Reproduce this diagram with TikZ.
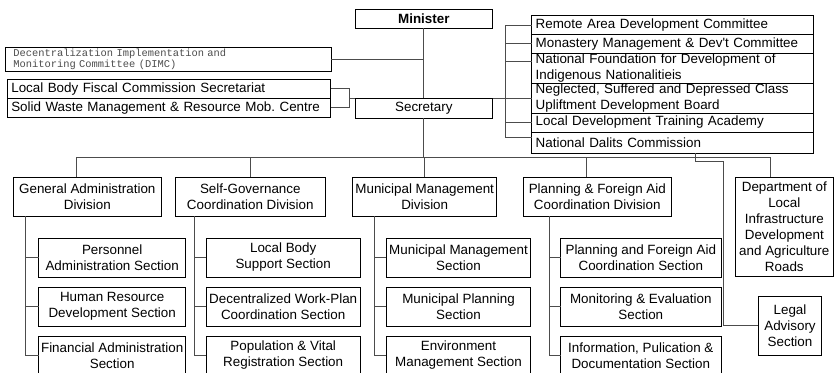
\documentclass[tikz,border=0pt]{standalone}
\usepackage{fontspec}
\setmainfont{Liberation Sans}
\setmonofont{Liberation Mono}
\usepackage{tikz}
\usetikzlibrary{positioning}
\frenchspacing
\tikzset{
Unit/.style={
	draw, inner sep=0pt, outer sep=0pt,
	align=center, line width=0.9pt,
	font=\fontsize{13.4}{16}\selectfont
},
Division/.style={
	Unit,
	minimum height=38.7pt
},
Section/.style={
	Unit,
	minimum height=39pt
},
Board/.style={
	Unit,
	align=left,
	inner xsep=4pt,
	text width=273.6pt,
	font=\fontsize{13.4}{15.5}\selectfont
},
Edge/.style={
	draw=black!70,
	line width=0.9pt
}
}

\begin{document}
\begin{tikzpicture}[x=1pt, y=-1pt]
	\useasboundingbox (0,0) rectangle (834,372);

	% top of the ministry
	\node[Unit, minimum width=137.7pt, minimum height=19pt, font=\bfseries\fontsize{13.4}{16}\selectfont] (minister) at (423.8,18.8) {Minister};
	\node[Unit, minimum width=137.7pt, minimum height=20pt] (secretary) at (423.8,108.3) {Secretary};

	\node[Unit, align=left, inner xsep=8pt, text width=309.7pt, minimum height=24pt, text=black!70, font=\ttfamily\fontsize{10.4}{10.7}\selectfont] (dimc) at (168.2,59) {Decentralization Implementation and\\Monitoring Committee (DIMC)};
	\node[Board, text width=315.4pt, minimum height=19.7pt] (lbfc) at (169,88.9) {Local Body Fiscal Commission Secretariat};
	\node[Board, text width=315.4pt, minimum height=18.3pt, below=0pt of lbfc] (swm) {Solid Waste Management \& Resource Mob. Centre};

	\node[Board, minimum height=19.4pt, anchor=north west] (remote) at (531.7,15.3) {Remote Area Development Committee};
	\node[Board, minimum height=18.3pt, below=0pt of remote] (monastery) {Monastery Management \& Dev\textquotesingle t Committee};
	\node[Board, minimum height=30pt, below=0pt of monastery] (natfound) {National Foundation for Development of\\Indigenous Nationalitieis};
	\node[Board, minimum height=30pt, below=0pt of natfound] (neglected) {Neglected, Suffered and Depressed Class\\Upliftment Development Board};
	\node[Board, minimum height=19pt, below=0pt of neglected] (localdev) {Local Development Training Academy};
	\node[Board, minimum height=21pt, below=0pt of localdev] (dalits) {National Dalits Commission};

	% divisions
	\node[Division, minimum width=148pt] (ga) at (87.3,196.7) {General Administration\\Division};
	\node[Division, minimum width=149.3pt] (sg) at (250.3,196.7) {Self-Governance\\Coordination Division};
	\node[Division, minimum width=144pt] (mm) at (424.7,196.7) {Municipal Management\\Division};
	\node[Division, minimum width=147.3pt] (pf) at (597.3,196.7) {Planning \& Foreign Aid\\Coordination Division};
	\node[Unit, minimum width=98pt, minimum height=98.7pt] (dept) at (784.3,226.7) {Department of\\Local\\Infrastructure\\Development\\and Agriculture\\Roads};
	\node[Unit, minimum width=63.4pt, minimum height=58.3pt] (legal) at (790,325.8) {Legal\\Advisory\\Section};

	% sections
	\node[Section, minimum width=147pt] (ga1) at (112.2,257.5) {Personnel\\Administration Section};
	\node[Section, minimum width=147pt, below=10pt of ga1] (ga2) {Human Resource\\Development Section};
	\node[Section, minimum width=147pt, below=10pt of ga2] (ga3) {Financial Administration\\Section};

	\node[Section, minimum width=153.7pt] (sg1) at (283.2,257.5) {Local Body\\Support Section};
	\node[Section, minimum width=153.7pt, below=10pt of sg1] (sg2) {Decentralized Work-Plan\\Coordination Section};
	\node[Section, minimum width=153.7pt, below=10pt of sg2] (sg3) {Population \& Vital\\Registration Section};

	\node[Section, minimum width=144.4pt] (mm1) at (458.5,257.5) {Municipal Management\\Section};
	\node[Section, minimum width=144.4pt, below=10pt of mm1] (mm2) {Municipal Planning\\Section};
	\node[Section, minimum width=144.4pt, below=10pt of mm2] (mm3) {Environment\\Management Section};

	\node[Section, minimum width=160.3pt] (pf1) at (640.8,257.5) {Planning and Foreign Aid\\Coordination Section};
	\node[Section, minimum width=160.3pt, below=10pt of pf1] (pf2) {Monitoring \& Evaluation\\Section};
	\node[Section, minimum width=160.3pt, below=10pt of pf2] (pf3) {Information, Pulication \&\\Documentation Section};

	% helper points
	\coordinate (bus) at (0,157.3);
	\coordinate (boardSpine) at (505.7,0);
	\coordinate (gaTop) at ([xshift=-11.3pt]ga.north);
	\coordinate (pfTop) at ([xshift=-11.3pt]pf.north);
	\coordinate (deptTop) at ([xshift=-13.6pt]dept.north);
	\coordinate (dalitsOut) at ([xshift=23pt]dalits.south);
	\coordinate (legalBend) at (723.3,161);
	\coordinate (gaSpine) at ([xshift=12.4pt]ga.south west);
	\coordinate (sgSpine) at ([xshift=18.3pt]sg.south west);
	\coordinate (mmSpine) at ([xshift=22pt]mm.south west);
	\coordinate (pfSpine) at ([xshift=25.3pt]pf.south west);

	\draw[Edge] (minister) -- (secretary);
	\draw[Edge] (dimc.east) -- (dimc.east -| minister.south);
	\draw[Edge] (lbfc.east) -- ++(18.3,0) |- (swm.east);
	\draw[Edge] (secretary.north west) -- ++(-5.7,0);

	\draw[Edge] (remote.west) -- (remote.west -| boardSpine) |- ([yshift=5.5pt]dalits.west);
	\draw[Edge] (monastery.west) -- (monastery.west -| boardSpine);
	\draw[Edge] ([yshift=6.7pt]natfound.west) -- ++(-25.9,0);
	\draw[Edge] (secretary.north east) -- (secretary.north east -| neglected.west);
	\draw[Edge] (localdev.west) -- (localdev.west -| boardSpine);

	\draw[Edge] (secretary) -- (secretary |- bus);
	\draw[Edge] (gaTop) |- (deptTop |- bus) -- (deptTop);
	\draw[Edge] (sg) -- (sg |- bus);
	\draw[Edge] (mm) -- (mm |- bus);
	\draw[Edge] (pfTop) -- (pfTop |- bus);
	\draw[Edge] (dalitsOut) |- (legalBend) |- (legal.west);

	\draw[Edge] (gaSpine) |- (ga3.west);
	\draw[Edge] (ga1.west) -- (ga1.west -| gaSpine);
	\draw[Edge] (ga2.west) -- (ga2.west -| gaSpine);
	\draw[Edge] (sgSpine) |- (sg3.west);
	\draw[Edge] (sg1.west) -- (sg1.west -| sgSpine);
	\draw[Edge] (sg2.west) -- (sg2.west -| sgSpine);
	\draw[Edge] (mmSpine) |- (mm3.west);
	\draw[Edge] (mm1.west) -- (mm1.west -| mmSpine);
	\draw[Edge] (mm2.west) -- (mm2.west -| mmSpine);
	\draw[Edge] (pfSpine) |- (pf3.west);
	\draw[Edge] (pf1.west) -- (pf1.west -| pfSpine);
	\draw[Edge] (pf2.west) -- (pf2.west -| pfSpine);
\end{tikzpicture}
\end{document}
